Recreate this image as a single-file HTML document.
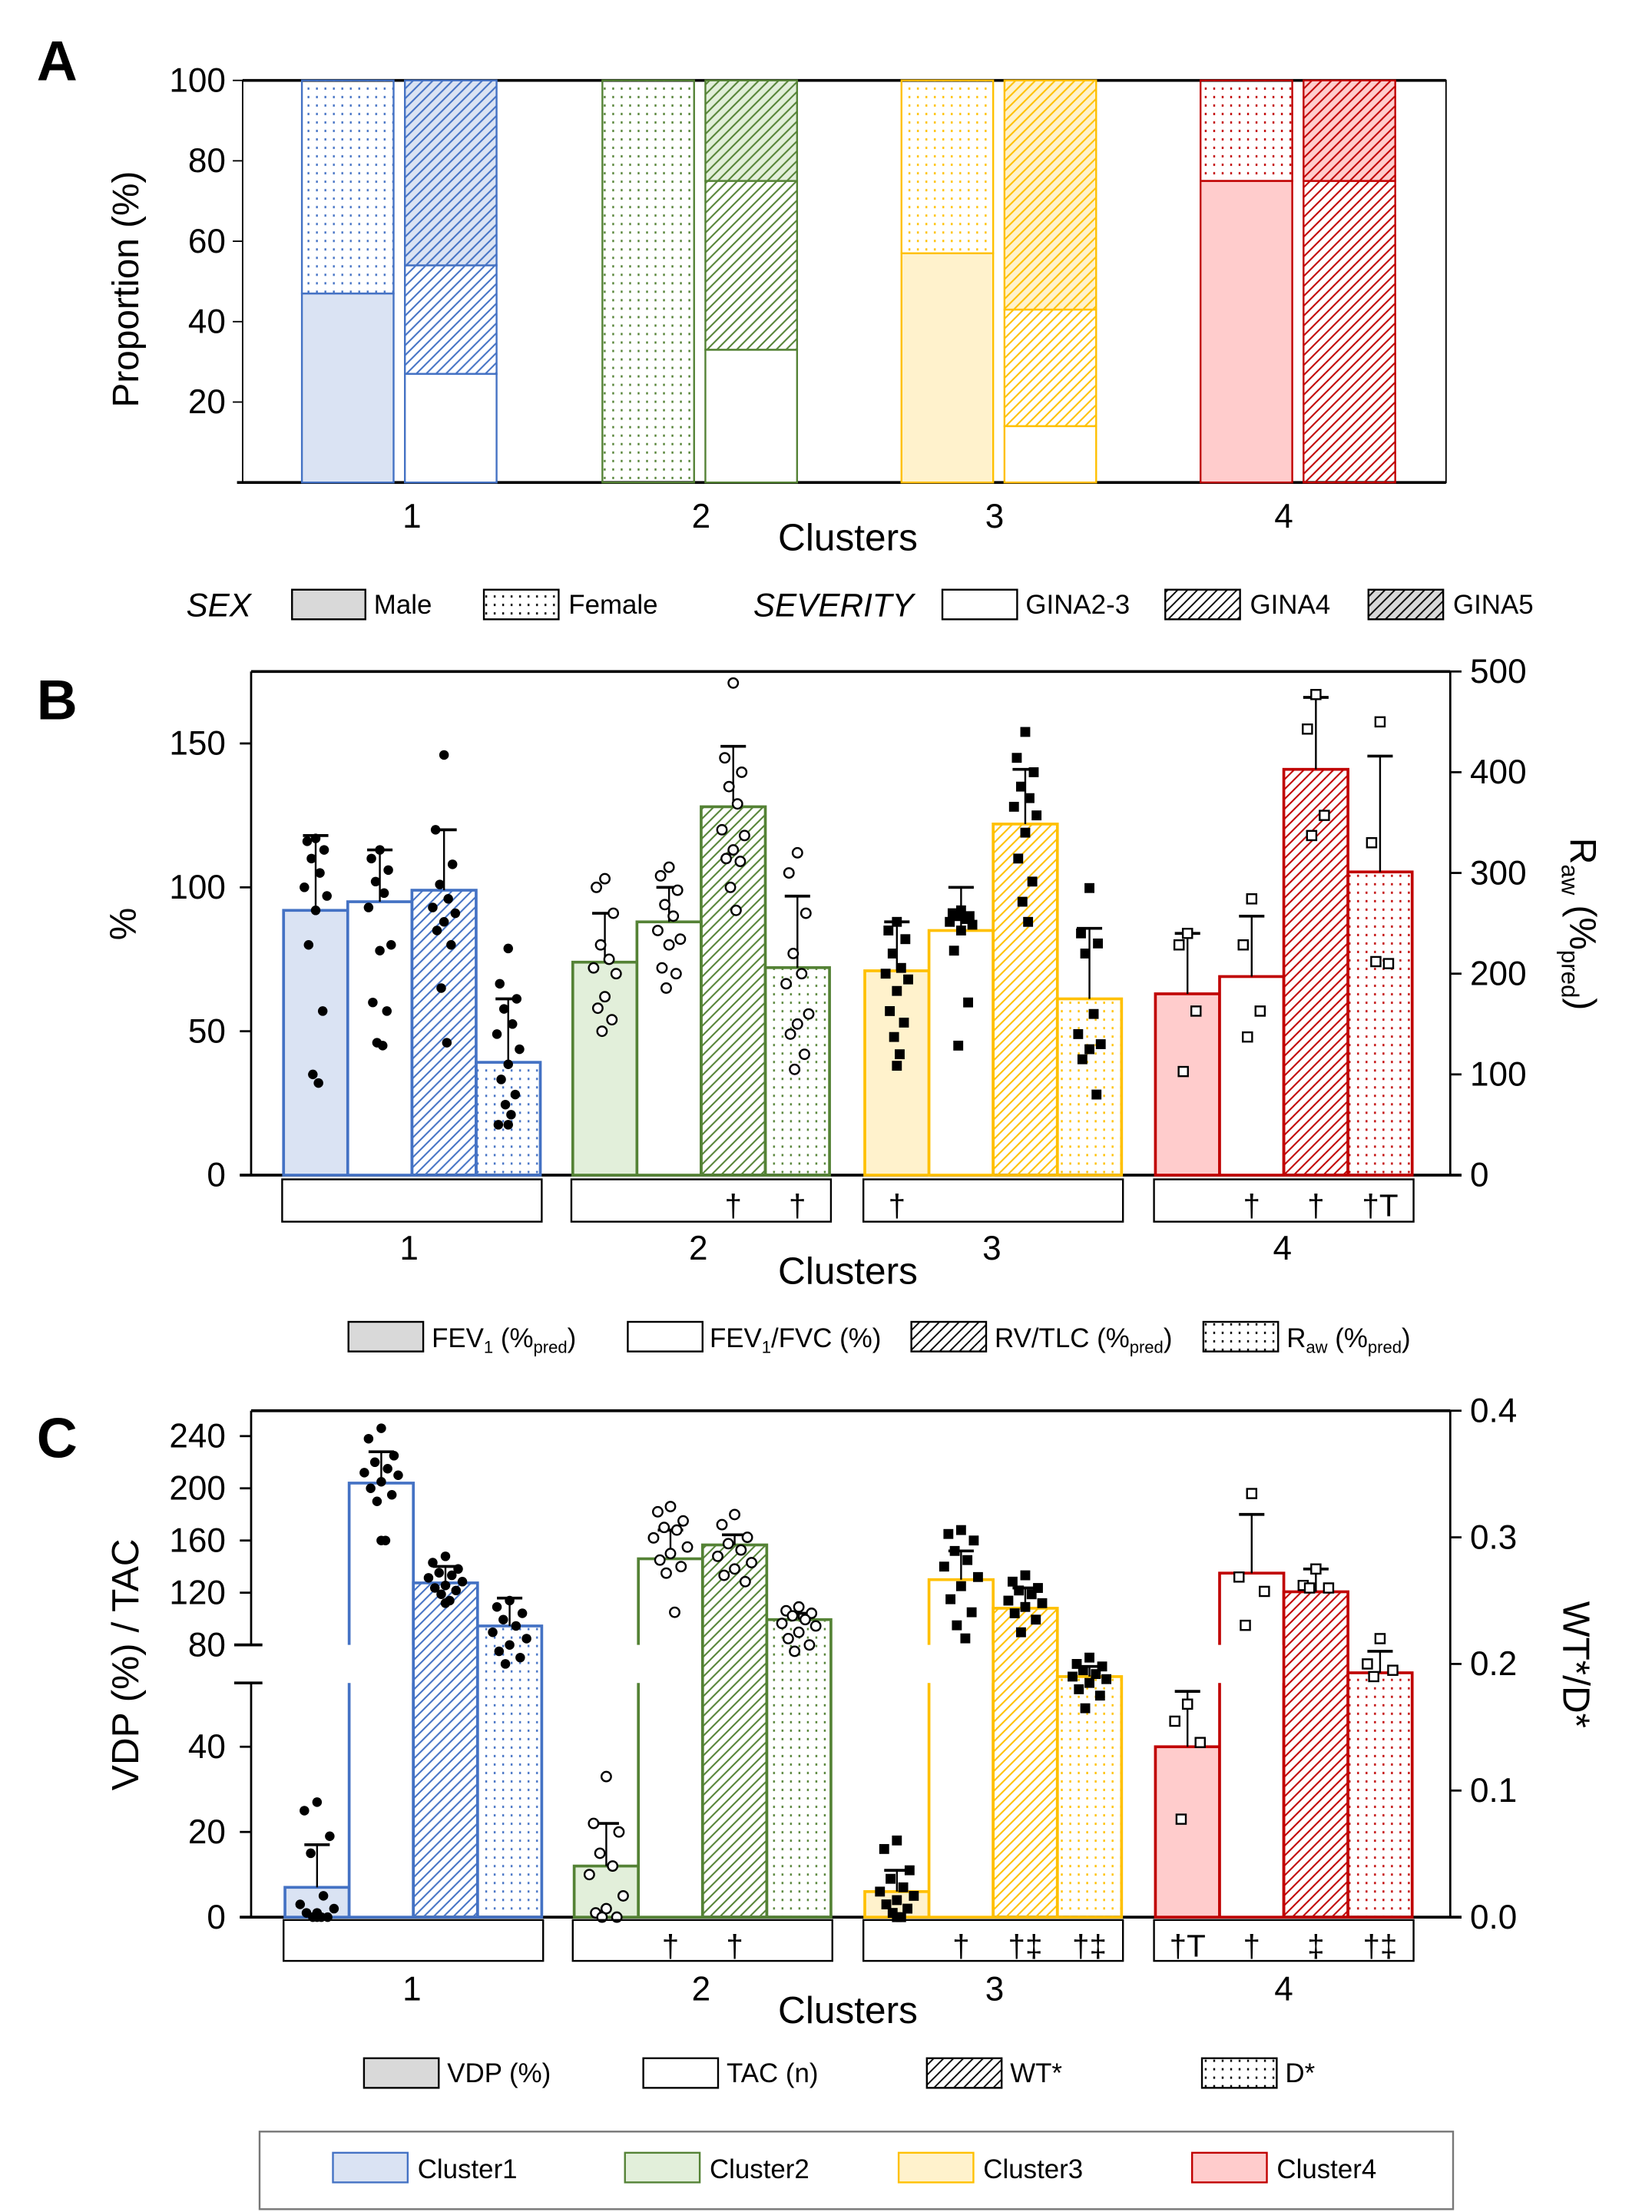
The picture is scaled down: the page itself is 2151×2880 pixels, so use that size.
<!DOCTYPE html>
<html><head><meta charset="utf-8">
<style>
html,body{margin:0;padding:0;background:#fff;}
svg{display:block;font-family:"Liberation Sans",Arial,sans-serif;}
</style></head>
<body>
<svg id="fig" xmlns="http://www.w3.org/2000/svg" width="2151" height="2880" viewBox="0 0 1171 1568" preserveAspectRatio="none">
<defs id="defs"></defs>
<g id="root"></g>
</svg>
<script>
// ---------- DATA ----------
const clusters = ['1','2','3','4'];
// Panel A (%)
const maleA = [47, 0, 57, 75];
const gina23A = [27, 33, 14, 0];
const gina4A = [27, 42, 29, 75];
const gina5A = [46, 25, 57, 25];
const ticksA = [20, 40, 60, 80, 100];
// Panel B (left axis %, raw on right axis)
const fev1 = [92, 74, 71, 63];
const fev1Err = [118, 91, 88, 84];
const ratio = [95, 88, 85, 69];
const ratioErr = [113, 100, 100, 90];
const rvtlc = [99, 128, 122, 141];
const rvtlcErr = [120, 149, 141, 166];
const raw = [112, 206, 175, 301];
const rawErr = [175, 277, 245, 416];
const fev1Pts = [[117,116,113,110,105,100,97,92,80,57,35,32],[103,100,91,80,75,72,70,62,58,54,50],[88,85,82,77,72,70,68,64,57,53,48,42,38],[84,80,57,36]];
const ratioPts = [[113,110,106,102,98,93,80,78,60,57,46,45],[107,104,99,94,90,85,82,80,72,70,65],[92,91,90,90,89,88,87,85,78,60,45],[96,80,57,48]];
const rvtlcPts = [[146,120,108,101,96,93,91,88,85,80,65,46],[171,145,140,135,129,120,118,113,110,109,100,92],[154,145,140,135,131,128,125,119,110,102,95,88],[167,155,125,118]];
const rawPts = [[225,190,175,165,150,140,125,110,95,80,70,60,50,50],[320,300,260,220,200,190,160,150,140,120,105],[285,240,230,220,160,140,130,125,115,80],[450,330,210,212]];
const ticksBL = [0, 50, 100, 150];
const ticksBR = [0, 100, 200, 300, 400, 500];
// Panel C
const vdp = [7, 12, 6, 40];
const vdpErr = [17, 22, 11, 53];
const tac = [204, 146, 130, 135];
const tacErr = [228, 168, 152, 180];
const wt = [0.264, 0.294, 0.244, 0.257];
const wtErr = [0.277, 0.302, 0.26, 0.275];
const dstar = [0.23, 0.235, 0.19, 0.193];
const dErr = [0.252, 0.24, 0.198, 0.21];
const vdpPts = [[27,25,19,15,5,3,2,1,1,0,0,0,0],[33,22,20,15,12,10,5,2,1,0,0],[18,16,11,9,7,6,5,4,3,2,1,0,0],[50,46,41,23]];
const tacPts = [[246,238,225,220,215,212,210,205,200,195,190,160,160],[186,182,175,170,168,162,155,150,145,140,135,105],[168,165,160,152,145,140,132,125,115,105,95,85],[196,132,121,95]];
const wtPts = [[0.285,0.28,0.275,0.272,0.27,0.268,0.265,0.262,0.26,0.258,0.255,0.25,0.248],[0.318,0.31,0.3,0.295,0.29,0.285,0.28,0.275,0.27,0.265],[0.27,0.265,0.26,0.258,0.255,0.25,0.248,0.245,0.24,0.235,0.225],[0.275,0.262,0.26,0.26]];
const dPts = [[0.25,0.245,0.24,0.235,0.23,0.225,0.22,0.215,0.21,0.205,0.2],[0.245,0.242,0.24,0.238,0.235,0.232,0.23,0.225,0.22,0.215,0.21],[0.205,0.2,0.198,0.195,0.192,0.19,0.188,0.185,0.18,0.175,0.165],[0.22,0.2,0.195,0.19]];
const ticksCLow = [0, 20, 40];
const ticksCHigh = [80, 120, 160, 200, 240];
const ticksCR = [0.0, 0.1, 0.2, 0.3, 0.4];
const sigB = [[],[ '', '', '†', '†'],['†','','',''],['','†','†','†T']];
const sigC = [[],['','†','†',''],['','†','†‡','†‡'],['†T','†','‡','†‡']];

// ---------- STYLE ----------
const col = ['#4472C4','#548235','#FFC000','#C00000'];
const fil = ['#DAE3F3','#E2EFDA','#FFF2CC','#FFCCCC'];
const NS = 'http://www.w3.org/2000/svg';
const root = document.getElementById('root');
const defs = document.getElementById('defs');
function mk(tag, attrs, parent){const e=document.createElementNS(NS,tag);for(const k in attrs)e.setAttribute(k,attrs[k]);(parent||root).appendChild(e);return e;}
function txt(s,x,y,size,anchor,parent,extra){const t=mk('text',Object.assign({x:x,y:y,'font-size':size,'text-anchor':anchor||'middle',fill:'#000'},extra||{}),parent);t.textContent=s;return t;}

function hatch(id,color,sp,bg,sw){const p=mk('pattern',{id:id,patternUnits:'userSpaceOnUse',width:sp,height:sp},defs);
 if(bg)mk('rect',{width:sp,height:sp,fill:bg},p);
 mk('path',{d:`M0,${sp} L${sp},0 M${-sp/2},${sp/2} L${sp/2},${-sp/2} M${sp/2},${sp*1.5} L${sp*1.5},${sp/2}`,stroke:color,'stroke-width':sw||1},p);}
function dots(id,color,bg){const p=mk('pattern',{id:id,patternUnits:'userSpaceOnUse',width:6,height:6},defs);
 if(bg)mk('rect',{width:6,height:6,fill:bg},p);
 mk('rect',{x:2,y:2,width:1.3,height:1.6,fill:color},p);}
for(let i=0;i<4;i++){hatch('h'+i,col[i],7,null,1.1);hatch('h5'+i,col[i],7,fil[i],1.1);dots('d'+i,col[i]);}
hatch('hk','#000',7,null,1);hatch('hk5','#000',7,'#d9d9d9',1);dots('dk','#000');

function panelLetter(s,x,y){const t=txt(s,x,y,40,'start',root,{'font-weight':'bold'});}

// ---------- PANEL A ----------
const gA = mk('g',{});


panelLetter('A',26,57);
const aTop=57,aBot=342;
const yA=v=>aBot-(v/100)*(aBot-aTop);
const aSexX=[214,427,639,851], aSevX=[287,500,712,924], aW=65;
mk('rect',{x:172,y:aTop,width:853,height:aBot-aTop,fill:'none',stroke:'#000','stroke-width':1},gA);
mk('line',{x1:172,y1:aTop,x2:1025,y2:aTop,stroke:'#000','stroke-width':2},gA);
mk('line',{x1:168,y1:aBot,x2:1025,y2:aBot,stroke:'#000','stroke-width':2},gA);
for(let i=0;i<4;i++){
 const m=maleA[i];
 const r1=mk('rect',{x:aSexX[i],y:yA(m),width:aW,height:yA(0)-yA(m),fill:fil[i],stroke:col[i],'stroke-width':1.3},gA);
 
 const r2=mk('rect',{x:aSexX[i],y:yA(100),width:aW,height:yA(m)-yA(100),fill:'url(#d'+i+')',stroke:col[i],'stroke-width':1.3},gA);
 
 const s1=gina23A[i],s2=s1+gina4A[i];
 const q1=mk('rect',{x:aSevX[i],y:yA(s1),width:aW,height:yA(0)-yA(s1),fill:'#fff',stroke:col[i],'stroke-width':1.3},gA);
 
 const q2=mk('rect',{x:aSevX[i],y:yA(s2),width:aW,height:yA(s1)-yA(s2),fill:'url(#h'+i+')',stroke:col[i],'stroke-width':1.3},gA);
 
 const q3=mk('rect',{x:aSevX[i],y:yA(100),width:aW,height:yA(s2)-yA(100),fill:'url(#h5'+i+')',stroke:col[i],'stroke-width':1.3},gA);
 
 const cx=[292,497,705,910][i];
 const l=txt(clusters[i],cx,374,24,'middle',gA);
}
ticksA.forEach(v=>{mk('line',{x1:165,y1:yA(v),x2:172,y2:yA(v),stroke:'#000'},gA);
 const t=txt(String(v),160,yA(v)+8,24,'end',gA);});
{const t=txt('Clusters',601,390,27,'middle',gA);}
{const t=txt('Proportion (%)',0,0,26,'middle',gA,{transform:'translate(98,205) rotate(-90)'});}
function legBox(x,y,w,h,fill,label,tx,g,name){const r=mk('rect',{x:x,y:y,width:w,height:h,fill:fill,stroke:'#000','stroke-width':1.3},g);
 if(label!==null){const t=txt(label,tx,y+h-4,19,'start',g);return t;}}
const gLA=mk('g',{});


{const t=txt('SEX',132,437,23,'start',gLA,{'font-style':'italic'});}
legBox(207,418,52,21,'#d9d9d9','Male',265,gLA,'legend-male');
legBox(343,418,53,21,'url(#dk)','Female',403,gLA,'legend-female');
{const t=txt('SEVERITY',534,437,23,'start',gLA,{'font-style':'italic'});}
legBox(668,418,53,21,'#fff','GINA2-3',727,gLA,'legend-gina23');
legBox(826,418,53,21,'url(#hk)','GINA4',886,gLA,'legend-gina4');
legBox(970,418,53,21,'url(#hk5)','GINA5',1030,gLA,'legend-gina5');

function marker(g,i,x,y){let m;
 if(i===0)m=mk('circle',{cx:x,cy:y,r:3.4,fill:'#000'},g);
 else if(i===1)m=mk('circle',{cx:x,cy:y,r:3.4,fill:'#fff',stroke:'#000','stroke-width':1.3},g);
 else if(i===2)m=mk('rect',{x:x-3.5,y:y-3.5,width:7,height:7,fill:'#000'},g);
 else m=mk('rect',{x:x-3.3,y:y-3.3,width:6.6,height:6.6,fill:'#fff',stroke:'#000','stroke-width':1.3},g);
 return m;}
function jit(k){const o=[0,-6,6,-3,3,-8,8,0,-5,5,-2,2,0,-7,7];return o[k%o.length];}
function errbar(g,x,y0,y1){mk('line',{x1:x,y1:y0,x2:x,y2:y1,stroke:'#000','stroke-width':1.3},g);mk('line',{x1:x-9,y1:y1,x2:x+9,y2:y1,stroke:'#000','stroke-width':2},g);}

// ---------- PANEL B ----------
const gB=mk('g',{});


panelLetter('B',26,510);
const bTop=476,bBot=833;
const yBL=v=>bBot-v*2.04;
const yBR=v=>bBot-(v/500)*(bBot-bTop);
const grpX=[201,406,613,819], bw=45.5;
mk('line',{x1:178,y1:bTop,x2:1028,y2:bTop,stroke:'#000','stroke-width':2},gB);
mk('line',{x1:178,y1:bTop,x2:178,y2:bBot,stroke:'#000','stroke-width':1.5},gB);
mk('line',{x1:1028,y1:bTop,x2:1028,y2:bBot,stroke:'#000','stroke-width':1.5},gB);
mk('line',{x1:170,y1:bBot,x2:1036,y2:bBot,stroke:'#000','stroke-width':2},gB);
ticksBL.forEach(v=>{mk('line',{x1:170,y1:yBL(v),x2:178,y2:yBL(v),stroke:'#000','stroke-width':1.5},gB);
 const t=txt(String(v),160,yBL(v)+8,24,'end',gB);});
ticksBR.forEach(v=>{mk('line',{x1:1028,y1:yBR(v),x2:1036,y2:yBR(v),stroke:'#000','stroke-width':1.5},gB);
 const t=txt(String(v),1042,yBR(v)+8,24,'start',gB);});
for(let i=0;i<4;i++){
 const x0=grpX[i];
 const specs=[[fev1[i],fev1Err[i],fev1Pts[i],yBL,fil[i],'fev1'],[ratio[i],ratioErr[i],ratioPts[i],yBL,'#fff','fev1-fvc'],[rvtlc[i],rvtlcErr[i],rvtlcPts[i],yBL,'url(#h'+i+')','rv-tlc'],[raw[i],rawErr[i],rawPts[i],yBR,'url(#d'+i+')','raw']];
 specs.forEach((s,j)=>{const bx=x0+j*bw, y=s[3];
  const r=mk('rect',{x:bx,y:y(s[0]),width:bw,height:bBot-y(s[0]),fill:s[4],stroke:col[i],'stroke-width':2},gB);
  
  errbar(gB,bx+bw/2,y(s[0]),y(s[1]));
  s[2].forEach((v,k)=>{const m=marker(gB,i,bx+bw/2+jit(k),y(v));
   });
 });
 const b=mk('rect',{x:x0-1,y:836,width:bw*4+2,height:30,fill:'none',stroke:'#000','stroke-width':1.3},gB);
 
 (sigB[i]||[]).forEach((s,j)=>{if(s){const t=txt(s,x0+j*bw+bw/2,862,22,'middle',gB);}});
 const l=txt(clusters[i],[290,495,703,909][i],893,24,'middle',gB);
}
{const t=txt('Clusters',601,910,27,'middle',gB);}
{const t=txt('%',0,0,26,'middle',gB,{transform:'translate(96,655) rotate(-90)'});}
{const t=mk('text',{transform:'translate(1113,655) rotate(90)','font-size':26,'text-anchor':'middle'},gB);t.innerHTML='R<tspan font-size="17" dy="6">aw</tspan><tspan dy="-6"> (%</tspan><tspan font-size="17" dy="6">pred</tspan><tspan dy="-6">)</tspan>';}
const gLB=mk('g',{});


legBox(247,937,53,21,'#d9d9d9',null,0,gLB,'legend-fev1');
legBox(445,937,53,21,'#fff',null,0,gLB,'legend-fev1-fvc');
legBox(646,937,53,21,'url(#hk)',null,0,gLB,'legend-rv-tlc');
legBox(853,937,53,21,'url(#dk)',null,0,gLB,'legend-raw');
{const t=mk('text',{x:306,y:955,'font-size':19},gLB);t.innerHTML='FEV<tspan font-size="12" dy="4">1</tspan><tspan dy="-4"> (%</tspan><tspan font-size="12" dy="4">pred</tspan><tspan dy="-4">)</tspan>';}
{const t=mk('text',{x:503,y:955,'font-size':19},gLB);t.innerHTML='FEV<tspan font-size="12" dy="4">1</tspan><tspan dy="-4">/FVC (%)</tspan>';}
{const t=mk('text',{x:705,y:955,'font-size':19},gLB);t.innerHTML='RV/TLC (%<tspan font-size="12" dy="4">pred</tspan><tspan dy="-4">)</tspan>';}
{const t=mk('text',{x:912,y:955,'font-size':19},gLB);t.innerHTML='R<tspan font-size="12" dy="4">aw</tspan><tspan dy="-4"> (%</tspan><tspan font-size="12" dy="4">pred</tspan><tspan dy="-4">)</tspan>';}

// ---------- PANEL C ----------
const gC=mk('g',{});


panelLetter('C',26,1033);
const cTop=1000,cBot=1359,brkLo=1193,brkHi=1166;
const yCL=v=>cBot-v*3.02;
const yCH=v=>brkHi-(v-80)*0.925;
const yCR=v=>cBot-(v/0.4)*(cBot-cTop);
const grpC=[202,407,613,819];
mk('line',{x1:178,y1:cTop,x2:1028,y2:cTop,stroke:'#000','stroke-width':2},gC);
mk('line',{x1:178,y1:cTop,x2:178,y2:brkHi,stroke:'#000','stroke-width':1.5},gC);
mk('line',{x1:178,y1:brkLo,x2:178,y2:cBot,stroke:'#000','stroke-width':1.5},gC);
mk('line',{x1:166,y1:brkHi,x2:186,y2:brkHi,stroke:'#000','stroke-width':2},gC);
mk('line',{x1:166,y1:brkLo,x2:186,y2:brkLo,stroke:'#000','stroke-width':2},gC);
mk('line',{x1:1028,y1:cTop,x2:1028,y2:cBot,stroke:'#000','stroke-width':1.5},gC);
mk('line',{x1:170,y1:cBot,x2:1036,y2:cBot,stroke:'#000','stroke-width':2},gC);
ticksCLow.forEach(v=>{mk('line',{x1:170,y1:yCL(v),x2:178,y2:yCL(v),stroke:'#000','stroke-width':1.5},gC);
 const t=txt(String(v),160,yCL(v)+8,24,'end',gC);});
ticksCHigh.forEach(v=>{mk('line',{x1:170,y1:yCH(v),x2:178,y2:yCH(v),stroke:'#000','stroke-width':1.5},gC);
 const t=txt(String(v),160,yCH(v)+8,24,'end',gC);});
ticksCR.forEach(v=>{mk('line',{x1:1028,y1:yCR(v),x2:1036,y2:yCR(v),stroke:'#000','stroke-width':1.5},gC);
 const t=txt(v.toFixed(1),1042,yCR(v)+8,24,'start',gC);});
for(let i=0;i<4;i++){
 const x0=grpC[i];
 let bx=x0;
 let r=mk('rect',{x:bx,y:yCL(vdp[i]),width:bw,height:cBot-yCL(vdp[i]),fill:fil[i],stroke:col[i],'stroke-width':2},gC);
 
 errbar(gC,bx+bw/2,yCL(vdp[i]),yCL(vdpErr[i]));
 vdpPts[i].forEach((v,k)=>{const m=marker(gC,i,bx+bw/2+jit(k)*1.5,yCL(v));});
 bx=x0+bw;
 r=mk('rect',{x:bx,y:yCH(tac[i]),width:bw,height:cBot-yCH(tac[i]),fill:'#fff',stroke:col[i],'stroke-width':2},gC);
 
 mk('rect',{x:bx-1.5,y:brkHi,width:bw+3,height:brkLo-brkHi,fill:'#fff'},gC);
 const bx2=x0+2*bw;
 r=mk('rect',{x:bx2,y:yCR(wt[i]),width:bw,height:cBot-yCR(wt[i]),fill:'url(#h'+i+')',stroke:col[i],'stroke-width':2},gC);
 
 const bx3=x0+3*bw;
 r=mk('rect',{x:bx3,y:yCR(dstar[i]),width:bw,height:cBot-yCR(dstar[i]),fill:'url(#d'+i+')',stroke:col[i],'stroke-width':2},gC);
 
 errbar(gC,bx+bw/2,yCH(tac[i]),yCH(tacErr[i]));
 tacPts[i].forEach((v,k)=>{const m=marker(gC,i,bx+bw/2+jit(k)*1.5,yCH(v));});
 errbar(gC,bx2+bw/2,yCR(wt[i]),yCR(wtErr[i]));
 wtPts[i].forEach((v,k)=>{const m=marker(gC,i,bx2+bw/2+jit(k)*1.5,yCR(v));});
 errbar(gC,bx3+bw/2,yCR(dstar[i]),yCR(dErr[i]));
 dPts[i].forEach((v,k)=>{const m=marker(gC,i,bx3+bw/2+jit(k)*1.5,yCR(v));});
 const b=mk('rect',{x:x0-1,y:1361,width:bw*4+2,height:29,fill:'none',stroke:'#000','stroke-width':1.3},gC);
 
 (sigC[i]||[]).forEach((s,j)=>{if(s){const t=txt(s,x0+j*bw+bw/2,1387,22,'middle',gC);}});
 const l=txt(clusters[i],[292,497,705,910][i],1418,24,'middle',gC);
}
{const t=txt('Clusters',601,1434,27,'middle',gC);}
{const t=txt('VDP (%) / TAC',0,0,27,'middle',gC,{transform:'translate(98,1180) rotate(-90)'});}
{const t=txt('WT*/D*',0,0,27,'middle',gC,{transform:'translate(1108,1180) rotate(90)'});}
const gLC=mk('g',{});


legBox(258,1459,53,21,'#d9d9d9','VDP (%)',317,gLC,'legend-vdp');
legBox(456,1459,53,21,'#fff','TAC (n)',515,gLC,'legend-tac');
legBox(657,1459,53,21,'url(#hk)','WT*',716,gLC,'legend-wt');
legBox(852,1459,53,21,'url(#dk)','D*',911,gLC,'legend-dstar');
const gLK=mk('g',{});


mk('rect',{x:184,y:1511,width:846,height:55,fill:'none',stroke:'#777','stroke-width':1.3},gLK);
[[236,296],[443,503],[637,697],[845,905]].forEach((p,i)=>{
 const r=mk('rect',{x:p[0],y:1526,width:53,height:21,fill:fil[i],stroke:col[i],'stroke-width':1.3},gLK);
 
 const t=txt('Cluster'+(i+1),p[1],1544,19,'start',gLK);});
</script>
</body></html>
